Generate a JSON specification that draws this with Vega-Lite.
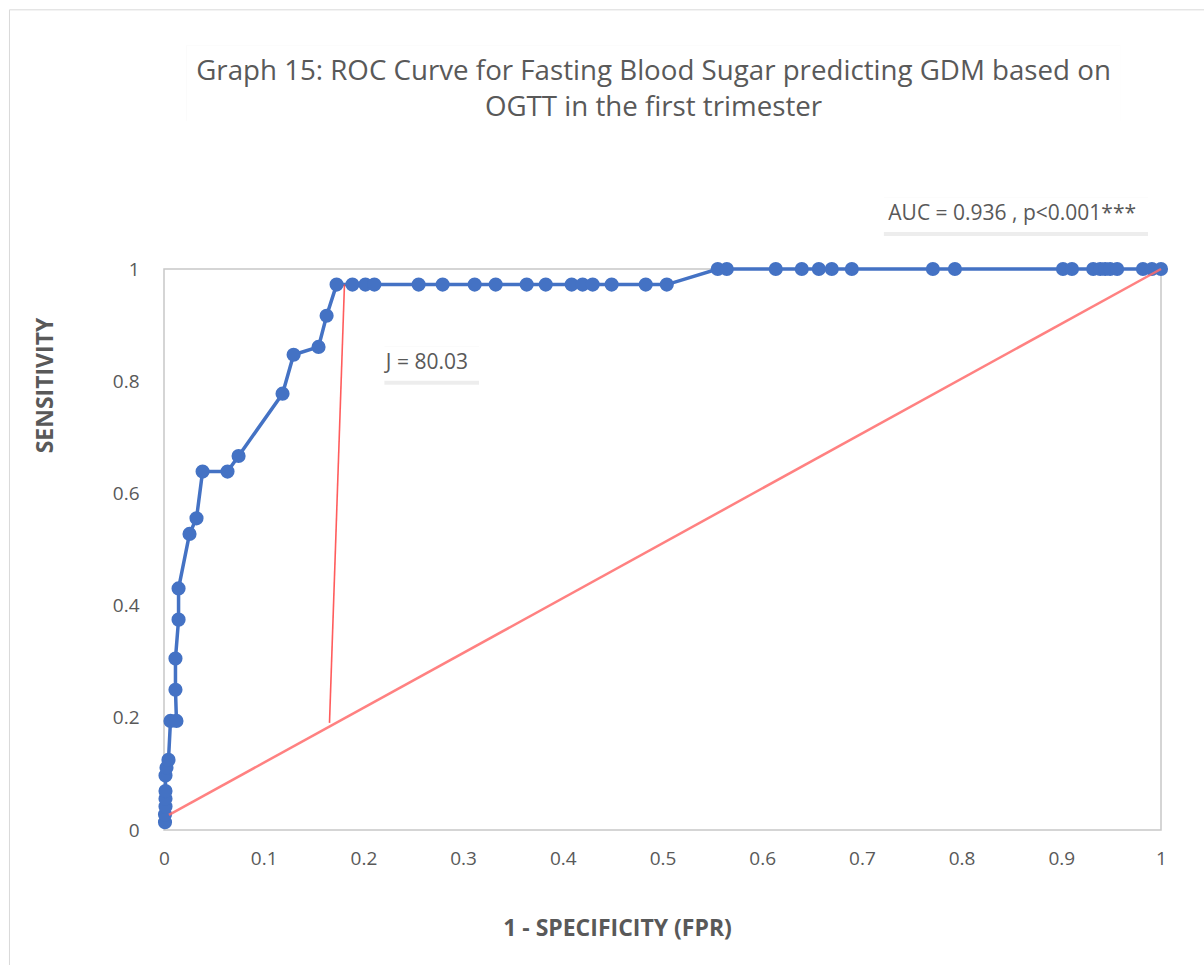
{
  "$schema": "https://vega.github.io/schema/vega-lite/v6.json",
  "width": 997,
  "height": 561,
  "autosize": "none",
  "padding": {"left": 164, "top": 269, "right": 43, "bottom": 135},
  "background": "white",
  "config": {
    "font": "Open Sans",
    "view": {"stroke": "#c8c8c8", "strokeWidth": 1.5},
    "axis": {"grid": false, "ticks": false, "domain": false, "labelFlush": false, "labelColor": "#595959", "labelFontSize": 19, "labelFont": "Open Sans", "titleColor": "#595959", "titleFont": "Open Sans", "titleFontSize": 23, "titleFontWeight": "bold"}
  },
  "datasets": {
    "roc": [
      {"i": 1, "fpr": 0.001, "tpr": 0.0139},
      {"i": 2, "fpr": 0.001, "tpr": 0.0278},
      {"i": 3, "fpr": 0.0015, "tpr": 0.0417},
      {"i": 4, "fpr": 0.0015, "tpr": 0.0556},
      {"i": 5, "fpr": 0.0015, "tpr": 0.0694},
      {"i": 6, "fpr": 0.0015, "tpr": 0.0972},
      {"i": 7, "fpr": 0.0025, "tpr": 0.1111},
      {"i": 8, "fpr": 0.0045, "tpr": 0.125},
      {"i": 9, "fpr": 0.0065, "tpr": 0.1944},
      {"i": 10, "fpr": 0.0125, "tpr": 0.1944},
      {"i": 11, "fpr": 0.0115, "tpr": 0.25},
      {"i": 12, "fpr": 0.0115, "tpr": 0.3056},
      {"i": 13, "fpr": 0.0146, "tpr": 0.375},
      {"i": 14, "fpr": 0.0146, "tpr": 0.4306},
      {"i": 15, "fpr": 0.0256, "tpr": 0.5278},
      {"i": 16, "fpr": 0.0326, "tpr": 0.5556},
      {"i": 17, "fpr": 0.0387, "tpr": 0.6389},
      {"i": 18, "fpr": 0.0637, "tpr": 0.6389},
      {"i": 19, "fpr": 0.0748, "tpr": 0.6667},
      {"i": 20, "fpr": 0.1189, "tpr": 0.7778},
      {"i": 21, "fpr": 0.13, "tpr": 0.8472},
      {"i": 22, "fpr": 0.155, "tpr": 0.8611},
      {"i": 23, "fpr": 0.1631, "tpr": 0.9167},
      {"i": 24, "fpr": 0.1731, "tpr": 0.9722},
      {"i": 25, "fpr": 0.189, "tpr": 0.9722},
      {"i": 26, "fpr": 0.202, "tpr": 0.9722},
      {"i": 27, "fpr": 0.211, "tpr": 0.9722},
      {"i": 28, "fpr": 0.2554, "tpr": 0.9722},
      {"i": 29, "fpr": 0.2795, "tpr": 0.9722},
      {"i": 30, "fpr": 0.3116, "tpr": 0.9722},
      {"i": 31, "fpr": 0.3327, "tpr": 0.9722},
      {"i": 32, "fpr": 0.3638, "tpr": 0.9722},
      {"i": 33, "fpr": 0.3829, "tpr": 0.9722},
      {"i": 34, "fpr": 0.4089, "tpr": 0.9722},
      {"i": 35, "fpr": 0.4199, "tpr": 0.9722},
      {"i": 36, "fpr": 0.43, "tpr": 0.9722},
      {"i": 37, "fpr": 0.449, "tpr": 0.9722},
      {"i": 38, "fpr": 0.4832, "tpr": 0.9722},
      {"i": 39, "fpr": 0.5043, "tpr": 0.9722},
      {"i": 40, "fpr": 0.5554, "tpr": 1},
      {"i": 41, "fpr": 0.5645, "tpr": 1},
      {"i": 42, "fpr": 0.6136, "tpr": 1},
      {"i": 43, "fpr": 0.6397, "tpr": 1},
      {"i": 44, "fpr": 0.6568, "tpr": 1},
      {"i": 45, "fpr": 0.6698, "tpr": 1},
      {"i": 46, "fpr": 0.6899, "tpr": 1},
      {"i": 47, "fpr": 0.7712, "tpr": 1},
      {"i": 48, "fpr": 0.7933, "tpr": 1},
      {"i": 49, "fpr": 0.9017, "tpr": 1},
      {"i": 50, "fpr": 0.9107, "tpr": 1},
      {"i": 51, "fpr": 0.932, "tpr": 1},
      {"i": 52, "fpr": 0.939, "tpr": 1},
      {"i": 53, "fpr": 0.944, "tpr": 1},
      {"i": 54, "fpr": 0.949, "tpr": 1},
      {"i": 55, "fpr": 0.956, "tpr": 1},
      {"i": 56, "fpr": 0.9819, "tpr": 1},
      {"i": 57, "fpr": 0.9909, "tpr": 1},
      {"i": 58, "fpr": 1, "tpr": 1}
    ],
    "chance": [
      {"i": 1, "fpr": 0.005, "tpr": 0.027},
      {"i": 2, "fpr": 1, "tpr": 1}
    ],
    "youden": [
      {"i": 1, "fpr": 0.166, "tpr": 0.191},
      {"i": 2, "fpr": 0.181, "tpr": 0.9722}
    ],
    "frame": [
      {"x": -0.155, "x2": 1.2, "y": -0.4, "y2": 1.462}
    ],
    "titlebox": [
      {"x": 0.0226, "x2": 0.959, "y": 1.257, "y2": 1.399}
    ],
    "boxes": [
      {"name": "auc", "x": 0.72, "x2": 0.987, "y": 1.066, "y2": 1.128},
      {"name": "j", "x": 0.219, "x2": 0.316, "y": 0.801, "y2": 0.862}
    ],
    "titles": [
      {"label": "Graph 15: ROC Curve for Fasting Blood Sugar predicting GDM based on", "x": 0.491, "y": 1.351},
      {"label": "OGTT in the first trimester", "x": 0.491, "y": 1.287}
    ],
    "labels": [
      {"label": "AUC = 0.936 , p<0.001***", "x": 0.7265, "y": 1.098},
      {"label": "J = 80.03", "x": 0.2225, "y": 0.832}
    ]
  },
  "layer": [
    {
      "data": {"name": "frame"},
      "mark": {"type": "rect", "fill": null, "stroke": "#d9d9d9", "strokeWidth": 1, "clip": false},
      "encoding": {
        "x": {"field": "x", "type": "quantitative", "scale": {"domain": [0, 1], "nice": false, "padding": 0, "zero": false}, "axis": {"values": [0, 0.1, 0.2, 0.3, 0.4, 0.5, 0.6, 0.7, 0.8, 0.9, 1], "format": "~g", "labelPadding": 19, "title": "1 - SPECIFICITY (FPR)", "titleX": 453, "titleY": 98, "titleBaseline": "middle", "titleAnchor": null}},
        "x2": {"field": "x2"},
        "y": {"field": "y", "type": "quantitative", "scale": {"domain": [0, 1], "nice": false, "padding": 0, "zero": false}, "axis": {"values": [0, 0.2, 0.4, 0.6, 0.8, 1], "format": "~g", "labelPadding": 25, "title": "SENSITIVITY", "titleX": -119, "titleY": 116, "titleAngle": -90, "titleAlign": "center", "titleBaseline": "middle", "titleAnchor": null}},
        "y2": {"field": "y2"}
      }
    },
    {
      "data": {"name": "titlebox"},
      "mark": {"type": "rect", "fill": "#000000", "opacity": 0.06, "yOffset": -4, "clip": false},
      "encoding": {
        "x": {"field": "x", "type": "quantitative"},
        "x2": {"field": "x2"},
        "y": {"field": "y", "type": "quantitative"},
        "y2": {"field": "y2"}
      }
    },
    {
      "data": {"name": "titlebox"},
      "mark": {"type": "rect", "fill": "white", "clip": false},
      "encoding": {
        "x": {"field": "x", "type": "quantitative"},
        "x2": {"field": "x2"},
        "y": {"field": "y", "type": "quantitative"},
        "y2": {"field": "y2"}
      }
    },
    {
      "data": {"name": "boxes"},
      "mark": {"type": "rect", "fill": "#000000", "opacity": 0.07, "xOffset": 2, "yOffset": 4, "clip": false},
      "encoding": {
        "x": {"field": "x", "type": "quantitative"},
        "x2": {"field": "x2"},
        "y": {"field": "y", "type": "quantitative"},
        "y2": {"field": "y2"}
      }
    },
    {
      "data": {"name": "boxes"},
      "mark": {"type": "rect", "fill": "white", "clip": false},
      "encoding": {
        "x": {"field": "x", "type": "quantitative"},
        "x2": {"field": "x2"},
        "y": {"field": "y", "type": "quantitative"},
        "y2": {"field": "y2"}
      }
    },
    {
      "data": {"name": "roc"},
      "mark": {"type": "line", "color": "#4472C4", "strokeWidth": 3.5, "clip": false, "point": {"filled": true, "size": 200, "color": "#4472C4", "opacity": 1}},
      "encoding": {
        "x": {"field": "fpr", "type": "quantitative"},
        "y": {"field": "tpr", "type": "quantitative"},
        "order": {"field": "i"}
      }
    },
    {
      "data": {"name": "chance"},
      "mark": {"type": "line", "color": "#FF6B6B", "strokeWidth": 2.5, "opacity": 0.85, "clip": false},
      "encoding": {
        "x": {"field": "fpr", "type": "quantitative"},
        "y": {"field": "tpr", "type": "quantitative"},
        "order": {"field": "i"}
      }
    },
    {
      "data": {"name": "youden"},
      "mark": {"type": "line", "color": "#FF4A4A", "strokeWidth": 1.6, "opacity": 0.9, "clip": false},
      "encoding": {
        "x": {"field": "fpr", "type": "quantitative"},
        "y": {"field": "tpr", "type": "quantitative"},
        "order": {"field": "i"}
      }
    },
    {
      "data": {"name": "labels"},
      "mark": {"type": "text", "align": "left", "baseline": "middle", "fontSize": 21, "font": "Open Sans", "color": "#595959", "clip": false},
      "encoding": {
        "x": {"field": "x", "type": "quantitative"},
        "y": {"field": "y", "type": "quantitative"},
        "text": {"field": "label"}
      }
    },
    {
      "data": {"name": "titles"},
      "mark": {"type": "text", "align": "center", "baseline": "middle", "fontSize": 27.7, "font": "Open Sans", "color": "#595959", "clip": false},
      "encoding": {
        "x": {"field": "x", "type": "quantitative"},
        "y": {"field": "y", "type": "quantitative"},
        "text": {"field": "label"}
      }
    }
  ]
}
